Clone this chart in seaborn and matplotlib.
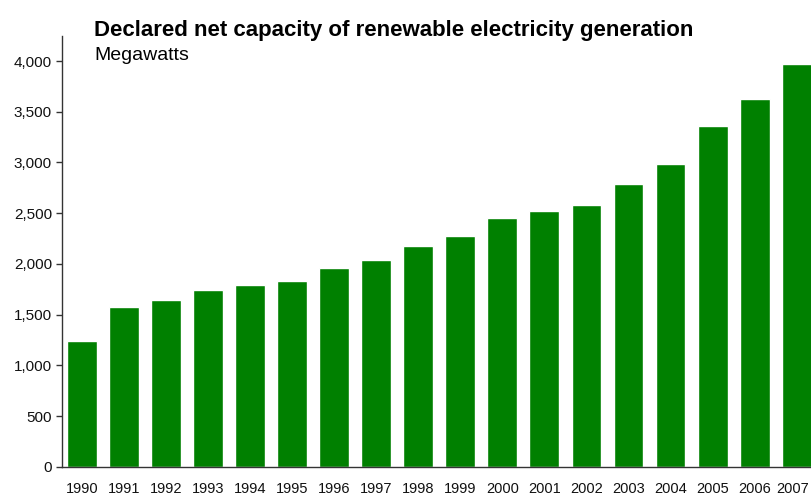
import matplotlib
matplotlib.use("Agg")
import matplotlib.pyplot as plt
import matplotlib.transforms as mtransforms
import seaborn as sns
import pandas as pd
from matplotlib.ticker import FuncFormatter, MultipleLocator

years = ["1990", "1991", "1992", "1993", "1994", "1995", "1996", "1997", "1998",
         "1999", "2000", "2001", "2002", "2003", "2004", "2005", "2006", "2007"]
capacity = [1240, 1575, 1644, 1742, 1791, 1831, 1957, 2035, 2173,
            2272, 2450, 2519, 2578, 2791, 2988, 3363, 3629, 3974]

df = pd.DataFrame({"year": years, "capacity": capacity})

sns.set_theme(style="white")
plt.rcParams["font.family"] = ["Liberation Sans", "DejaVu Sans"]

fig = plt.figure(figsize=(8.11, 4.96), dpi=100)
ax = fig.add_axes([0.076, 0.059, 0.924, 0.869])

sns.barplot(data=df, x="year", y="capacity", color="#008000", saturation=1,
            width=0.71, ax=ax)

ax.set_xlim(-0.48, 17.34)
ax.set_ylim(0, 4250)
ax.yaxis.set_major_locator(MultipleLocator(500))
ax.yaxis.set_major_formatter(FuncFormatter(lambda v, p: f"{int(v):,}"))
ax.set_xlabel("")
ax.set_ylabel("")

for s in ["top", "right"]:
    ax.spines[s].set_visible(False)
for s in ["left", "bottom"]:
    ax.spines[s].set_visible(True)
    ax.spines[s].set_color("#333333")
    ax.spines[s].set_linewidth(1.0)

ax.tick_params(axis="y", which="major", left=True, length=4, width=1,
               color="#333333", labelsize=11, pad=3, labelcolor="#111111")
ax.tick_params(axis="x", bottom=False, labelsize=10.5, pad=5, labelcolor="#111111")

# nudge the last year label so it stays inside the figure, as in the reference
last = ax.get_xticklabels()[-1]
last.set_transform(last.get_transform() +
                   mtransforms.ScaledTranslation(-4 / 100, 0, fig.dpi_scale_trans))

fig.text(0.116, 0.927, "Declared net capacity of renewable electricity generation",
         fontsize=16, fontweight="bold", color="black", va="baseline", ha="left")
fig.text(0.116, 0.879, "Megawatts", fontsize=14, color="black", va="baseline", ha="left")

fig.savefig("out.png", dpi=100)
